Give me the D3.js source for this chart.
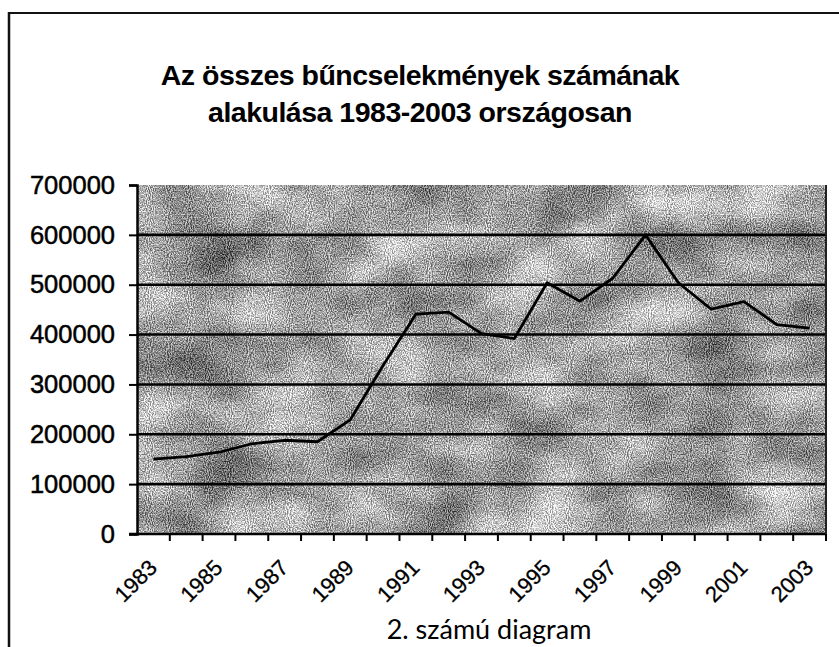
<!DOCTYPE html>
<html>
<head>
<meta charset="utf-8">
<script src="https://cdn.jsdelivr.net/npm/d3@7"></script>
<style>
  body { margin: 0; background: #fff; }
  svg { display: block; }
</style>
</head>
<body>
<div id="chart"></div>
<script>
// --- Data ---
const years = ["1983", "1984", "1985", "1986", "1987", "1988", "1989", "1990", "1991", "1992", "1993",
               "1994", "1995", "1996", "1997", "1998", "1999", "2000", "2001", "2002", "2003"];
const crimes = [150000, 155000, 164000, 181000, 188000, 185000, 229000, 338000, 441000, 445000, 402000,
                392000, 504000, 467000, 513000, 600000, 504000, 451000, 466000, 420000, 413000];
const yTicks = [0, 100000, 200000, 300000, 400000, 500000, 600000, 700000];
const titleLines = ["Az összes bűncselekmények számának", "alakulása 1983-2003 országosan"];
const caption = "2. számú diagram";

// --- Setup ---
const width = 839, height = 647;
const plot = { left: 137, right: 826, top: 185, bottom: 534 };
const arial = "'Liberation Sans', Arial, sans-serif";

const svg = d3.select("#chart").append("svg")
    .attr("width", width)
    .attr("height", height);

svg.append("rect").attr("width", width).attr("height", height).attr("fill", "#fff");

// outer chart border (only top and left show in the scan)
svg.append("line").attr("x1", 9).attr("x2", width).attr("y1", 13).attr("y2", 13)
    .attr("stroke", "#111").attr("stroke-width", 2);
svg.append("line").attr("x1", 9).attr("x2", 9).attr("y1", 12).attr("y2", height)
    .attr("stroke", "#111").attr("stroke-width", 2.5);

const x = d3.scaleBand().domain(years).range([plot.left, plot.right]).padding(0);
const y = d3.scaleLinear().domain([0, 700000]).range([plot.bottom, plot.top]);

// granite / dithered texture for the plot area
const defs = svg.append("defs");
const tex = defs.append("filter")
    .attr("id", "granite")
    .attr("filterUnits", "userSpaceOnUse")
    .attr("x", plot.left).attr("y", plot.top)
    .attr("width", plot.right - plot.left).attr("height", plot.bottom - plot.top)
    .attr("color-interpolation-filters", "sRGB");
tex.append("feTurbulence")
    .attr("type", "fractalNoise").attr("baseFrequency", "0.012 0.018")
    .attr("numOctaves", 3).attr("seed", 11).attr("result", "big");
tex.append("feColorMatrix").attr("in", "big").attr("type", "matrix")
    .attr("values", "1.2 0 0 0 -0.1  1.2 0 0 0 -0.1  1.2 0 0 0 -0.1  0 0 0 0 1")
    .attr("result", "bigG");
tex.append("feTurbulence")
    .attr("type", "fractalNoise").attr("baseFrequency", "0.95 0.7")
    .attr("numOctaves", 1).attr("seed", 3).attr("result", "fine");
tex.append("feColorMatrix").attr("in", "fine").attr("type", "matrix")
    .attr("values", "2.6 0 0 0 -0.8  2.6 0 0 0 -0.8  2.6 0 0 0 -0.8  0 0 0 0 1")
    .attr("result", "fineG");
tex.append("feComposite").attr("in", "bigG").attr("in2", "fineG")
    .attr("operator", "arithmetic")
    .attr("k1", 0).attr("k2", 0.55).attr("k3", 0.55).attr("k4", 0.08);

svg.append("rect")
    .attr("x", plot.left).attr("y", plot.top)
    .attr("width", plot.right - plot.left).attr("height", plot.bottom - plot.top)
    .attr("fill", "#999")
    .attr("filter", "url(#granite)");

// gridlines
svg.append("g")
    .selectAll("line")
    .data(yTicks.filter(d => d > 0 && d < 700000))
    .join("line")
    .attr("x1", plot.left).attr("x2", plot.right)
    .attr("y1", d => y(d)).attr("y2", d => y(d))
    .attr("stroke", "#000").attr("stroke-width", 2.6);

// --- Axes ---
const yAxis = svg.append("g")
    .attr("transform", `translate(${plot.left},0)`)
    .call(d3.axisLeft(y).tickValues(yTicks).tickSize(8).tickPadding(14).tickFormat(d3.format("d")));
yAxis.select(".domain").attr("stroke", "#000").attr("stroke-width", 2.5);
yAxis.selectAll(".tick line").attr("stroke", "#000").attr("stroke-width", 2);
yAxis.selectAll("text")
    .attr("font-family", arial)
    .attr("font-size", 25.5)
    .attr("fill", "#000")
    .attr("stroke", "#000").attr("stroke-width", 0.5);

const xAxis = svg.append("g").attr("transform", `translate(0,${plot.bottom})`);
xAxis.append("line")
    .attr("x1", plot.left - 8).attr("x2", plot.right)
    .attr("stroke", "#000").attr("stroke-width", 2.5);
xAxis.selectAll("line.tick")
    .data(years)
    .join("line")
    .attr("class", "tick")
    .attr("x1", d => x(d) + x.bandwidth()).attr("x2", d => x(d) + x.bandwidth())
    .attr("y1", 0).attr("y2", 7)
    .attr("stroke", "#000").attr("stroke-width", 2);
xAxis.selectAll("text")
    .data(years.filter((d, i) => i % 2 === 0))
    .join("text")
    .attr("transform", d => `translate(${x(d) + x.bandwidth() / 2 + 5},${35}) rotate(-45)`)
    .attr("text-anchor", "end")
    .attr("font-family", arial)
    .attr("font-size", 22)
    .attr("fill", "#000")
    .attr("stroke", "#000").attr("stroke-width", 0.3)
    .text(d => d);

// right edge of plot area
svg.append("line")
    .attr("x1", plot.right).attr("x2", plot.right)
    .attr("y1", plot.top).attr("y2", plot.bottom)
    .attr("stroke", "#222").attr("stroke-width", 2);

// --- Line ---
const line = d3.line()
    .x((d, i) => x(years[i]) + x.bandwidth() / 2)
    .y(d => y(d));

svg.append("path")
    .datum(crimes)
    .attr("d", line)
    .attr("fill", "none")
    .attr("stroke", "#000")
    .attr("stroke-width", 2.8)
    .attr("stroke-linejoin", "round");

// --- Titles ---
svg.append("g")
    .selectAll("text")
    .data(titleLines)
    .join("text")
    .attr("x", 420)
    .attr("y", (d, i) => 85 + i * 37)
    .attr("text-anchor", "middle")
    .attr("font-family", arial)
    .attr("font-weight", "bold")
    .attr("font-size", 28.5)
    .attr("letter-spacing", -0.5)
    .attr("fill", "#000")
    .text(d => d);

svg.append("text")
    .attr("x", 489)
    .attr("y", 639)
    .attr("text-anchor", "middle")
    .attr("font-family", "Lato, 'Open Sans', sans-serif")
    .attr("font-size", 27)
    .attr("fill", "#000")
    .text(caption);
</script>
</body>
</html>
